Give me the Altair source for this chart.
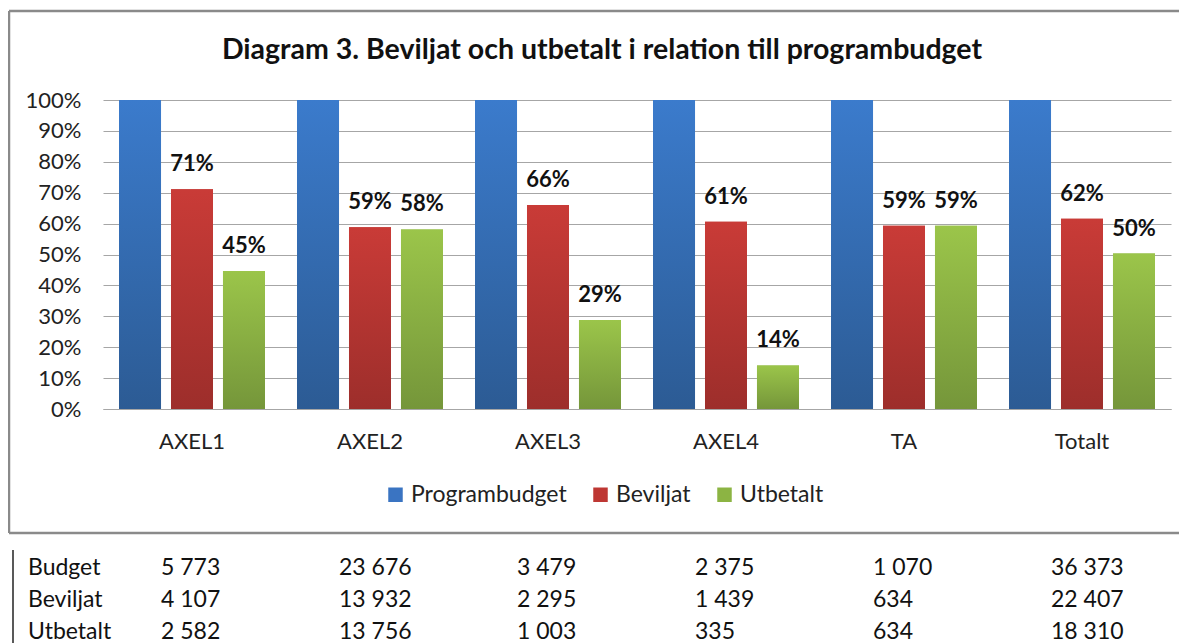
import altair as alt
import pandas as pd

# ---------------- data ----------------
categories = ["AXEL1", "AXEL2", "AXEL3", "AXEL4", "TA", "Totalt"]
series = ["Programbudget", "Beviljat", "Utbetalt"]
programbudget_share = [1.00, 1.00, 1.00, 1.00, 1.00, 1.00]
beviljat_share = [0.711, 0.588, 0.660, 0.606, 0.593, 0.616]
utbetalt_share = [0.447, 0.581, 0.288, 0.141, 0.593, 0.503]
y_ticks = [0.0, 0.1, 0.2, 0.3, 0.4, 0.5, 0.6, 0.7, 0.8, 0.9, 1.0]

table_rows = ["Budget", "Beviljat", "Utbetalt"]
budget_tkr = [5773, 23676, 3479, 2375, 1070, 36373]
beviljat_tkr = [4107, 13932, 2295, 1439, 634, 22407]
utbetalt_tkr = [2582, 13756, 1003, 335, 634, 18310]

title_text = "Diagram 3. Beviljat och utbetalt i relation till programbudget"

FONT = "Lato"
legend_colors = ["#3a74c2", "#be3733", "#8cb443"]
grad_stops = {
    "Programbudget": ("#3b7bcc", "#2c5b94"),
    "Beviljat": ("#c93b37", "#9d2e2b"),
    "Utbetalt": ("#9bc54a", "#75963a"),
}

# ---------------- frames ----------------
rows = []
for name, vals in zip(series, [programbudget_share, beviljat_share, utbetalt_share]):
    for c, v in zip(categories, vals):
        rows.append({"category": c, "series": name, "value": v})
bars_df = pd.DataFrame(rows)

trows = []
for rname, vals in zip(table_rows, [budget_tkr, beviljat_tkr, utbetalt_tkr]):
    for c, v in zip(categories, vals):
        trows.append({"category": c, "row": rname, "txt": f"{v:,}".replace(",", " ")})
table_df = pd.DataFrame(trows)
rowlab_df = pd.DataFrame({"row": table_rows})
title_df = pd.DataFrame({"t": [title_text]})
one = pd.DataFrame({"a": [0]})

# ---------------- encodings ----------------
X = alt.X(
    "category:N",
    sort=categories,
    scale=alt.Scale(domain=categories, paddingInner=0, paddingOuter=0),
    axis=alt.Axis(
        title=None, labelAngle=0, labelFontSize=22, labelPadding=22,
        ticks=False, domainColor="#a6a6a6", domainWidth=1.2, labelColor="#222222",
        labelFont=FONT,
    ),
)
XO = alt.XOffset("series:N", scale=alt.Scale(domain=series, paddingInner=0.192, paddingOuter=0.308))
Y = alt.Y(
    "value:Q",
    scale=alt.Scale(domain=[0, 1], nice=False),
    axis=alt.Axis(
        values=y_ticks, format=".0%", title=None, domain=False, ticks=False,
        labelPadding=22, labelFontSize=22, labelColor="#222222", labelFont=FONT,
        gridColor="#a6a6a6", gridWidth=1.2,
    ),
)

base_bars = alt.Chart(bars_df).mark_bar().encode(
    x=X, xOffset=XO, y=Y,
    color=alt.Color(
        "series:N",
        scale=alt.Scale(domain=series, range=legend_colors),
        legend=alt.Legend(
            title=None, orient="none", legendX=281, legendY=383, direction="horizontal",
            symbolType="square", symbolSize=210, symbolStrokeWidth=0, labelFontSize=23,
            labelFont=FONT, labelColor="#222222", columnPadding=22, labelOffset=4,
        ),
    ),
)

grad_layers = []
for name in series:
    top, bot = grad_stops[name]
    g = alt.Gradient(
        gradient="linear",
        stops=[alt.GradientStop(color=top, offset=0), alt.GradientStop(color=bot, offset=1)],
        x1=0, x2=0, y1=0, y2=1,
    )
    grad_layers.append(
        alt.Chart(bars_df).transform_filter(alt.datum.series == name)
        .mark_bar(color=g).encode(x=X, xOffset=XO, y=Y)
    )

labels = alt.Chart(bars_df).transform_filter(alt.datum.series != "Programbudget").mark_text(
    font=FONT, fontSize=22, fontWeight="bold", dy=-18, baseline="alphabetic", color="#111111"
).encode(x=X, xOffset=XO, y=Y, text=alt.Text("value:Q", format=".0%"))

bars_group = alt.layer(base_bars, *grad_layers, labels)

# table below chart
RY = alt.Y("row:N", scale=alt.Scale(domain=table_rows, range=[468, 532], padding=0), axis=None)
table_text = alt.Chart(table_df).mark_text(
    font=FONT, fontSize=23, align="left", baseline="middle", dx=-31, color="#111111"
).encode(x=X, y=RY, text="txt:N")
row_labels = alt.Chart(rowlab_df).mark_text(
    font=FONT, fontSize=23, align="left", baseline="middle", color="#111111"
).encode(x=alt.value(-75), y=RY, text="row:N")
table_line = alt.Chart(one).mark_rule(color="#222222", strokeWidth=1.5).encode(
    x=alt.value(-90), y=alt.value(450), y2=alt.value(545)
)

title_mark = alt.Chart(title_df).mark_text(
    font=FONT, fontSize=28.5, fontWeight="bold", align="center", baseline="middle", color="#111111"
).encode(x=alt.value(499), y=alt.value(-50), text="t:N")

border_col = "#8a8a8a"
b_top = alt.Chart(one).mark_rule(color=border_col, strokeWidth=2.5).encode(
    x=alt.value(-94), x2=alt.value(1090), y=alt.value(-89))
b_left = alt.Chart(one).mark_rule(color=border_col, strokeWidth=2.5).encode(
    x=alt.value(-94), y=alt.value(-89), y2=alt.value(433))
b_bot = alt.Chart(one).mark_rule(color=border_col, strokeWidth=2.5).encode(
    x=alt.value(-94), x2=alt.value(1090), y=alt.value(433))

other_group = alt.layer(table_line, table_text, row_labels, title_mark, b_top, b_left, b_bot)

chart = alt.layer(bars_group, other_group).resolve_scale(y="independent").properties(
    width=1068, height=309,
    autosize=alt.AutoSizeParams(type="none"),
    padding={"left": 95, "top": 92, "right": 8, "bottom": 234},
    background="white",
).configure_view(stroke="transparent")

chart.save("out.html", embed_options={"renderer": "svg", "actions": False})
